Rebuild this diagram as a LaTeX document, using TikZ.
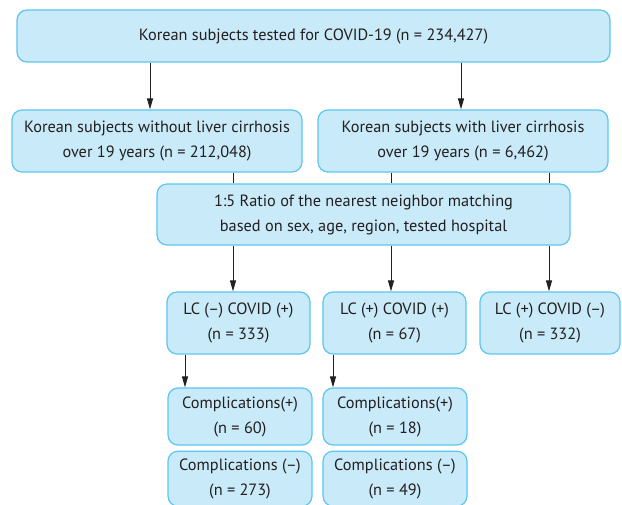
\documentclass[tikz,border=0pt]{standalone}
\usepackage{fontspec}
\setmainfont{PT Sans}
\usetikzlibrary{arrows.meta,positioning}
\definecolor{boxfill}{HTML}{C9EAF8}
\definecolor{boxline}{HTML}{5CC6EE}
\definecolor{ink}{HTML}{231F20}
\begin{document}
\begin{tikzpicture}[x=1pt,y=1pt,
    every node/.style={draw=boxline,fill=boxfill,line width=1.2pt,rounded corners=10pt,align=center,text=ink,inner sep=0pt,font=\fontsize{16.3}{25}\selectfont},
    arr/.style={draw=ink,line width=1pt,-{Triangle[length=11pt,width=6pt]}},
    link/.style={draw=ink,line width=1pt}]
    \useasboundingbox (0,0) rectangle (622,-505);
    \node[minimum width=593,minimum height=52] (tested) at (313.5,-36) {Korean subjects tested for COVID-19 (n = 234,427)};
    \node[minimum width=290,minimum height=62] (noLC) at (157,-141) {Korean subjects without liver cirrhosis\\over 19 years (n = 212,048)};
    \node[minimum width=290,minimum height=62] (withLC) at (463,-141) {Korean subjects with liver cirrhosis\\over 19 years (n = 6,462)};
    \node[minimum width=413,minimum height=61] (match) at (363.5,-214.5) {1:5 Ratio of the nearest neighbor matching\\based on sex, age, region, tested hospital};
    \node[minimum width=143,minimum height=62] (lcneg) at (238.5,-323) {LC (–) COVID (+)\\(n = 333)};
    \node[minimum width=143,minimum height=62] (lcpos) at (394.5,-323) {LC (+) COVID (+)\\(n = 67)};
    \node[minimum width=140,minimum height=62] (lcctrl) at (550,-323) {LC (+) COVID (–)\\(n = 332)};
    \node[minimum width=144,minimum height=57] (compAp) at (240,-416.5) {Complications(+)\\(n = 60)};
    \node[minimum width=144,minimum height=55,below=5pt of compAp] (compAn) {Complications (–)\\(n = 273)};
    \node[minimum width=144,minimum height=57] (compBp) at (395,-416.5) {Complications(+)\\(n = 18)};
    \node[minimum width=144,minimum height=55,below=5pt of compBp] (compBn) {Complications (–)\\(n = 49)};
    % first split
    \draw[arr] ([xshift=-163.5pt]tested.south) -- ([xshift=-7pt]noLC.north);
    \draw[arr] ([xshift=147.5pt]tested.south) -- ([xshift=-2pt]withLC.north);
    % into matching
    \draw[link] ([xshift=76pt]noLC.south) -- ([xshift=-130.5pt]match.north);
    \draw[link] ([xshift=-72pt]withLC.south) -- ([xshift=27.5pt]match.north);
    \draw[link] ([xshift=86pt]withLC.south) -- ([xshift=185.5pt]match.north);
    % matched groups
    \draw[arr] ([xshift=-130.5pt]match.south) -- ([xshift=-5.5pt]lcneg.north);
    \draw[arr] ([xshift=27.5pt]match.south) -- ([xshift=-3.5pt]lcpos.north);
    \draw[arr] ([xshift=185.5pt]match.south) -- ([xshift=-1pt]lcctrl.north);
    % complications
    \draw[arr] ([xshift=-53.5pt]lcneg.south) -- ([xshift=-55pt]compAp.north);
    \draw[arr] ([xshift=-61.5pt]lcpos.south) -- ([xshift=-62pt]compBp.north);
\end{tikzpicture}
\end{document}
